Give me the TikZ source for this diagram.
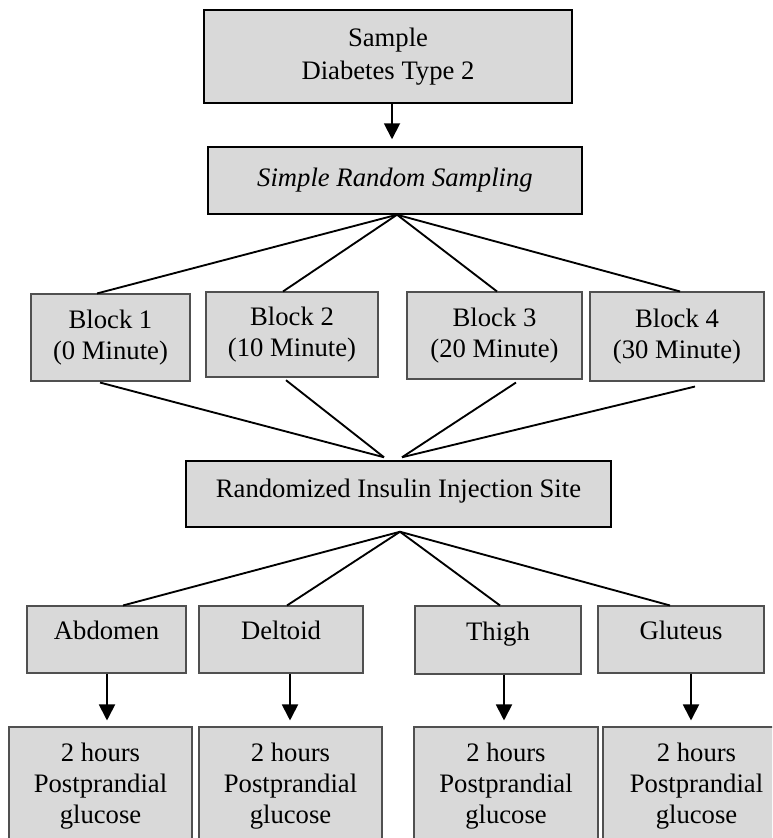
\documentclass[tikz,border=0pt]{standalone}
\usepackage{fontspec}
\setmainfont{Liberation Serif}
\usetikzlibrary{arrows.meta}
\definecolor{boxgray}{HTML}{D9D9D9}
\definecolor{edgegray}{HTML}{505050}
\tikzset{
  box/.style={draw=black, line width=1.1pt, fill=boxgray, rectangle, inner sep=0pt,
    align=center, font=\fontsize{20pt}{23.5pt}\selectfont},
  sbox/.style={box, draw=edgegray, line width=0.8pt},
  link/.style={line width=1.4pt, black},
  arr/.style={line width=1.4pt, black, -{Triangle[width=12pt,length=12pt]}},
  single/.style={text height=13pt, text depth=13pt}
}
\begin{document}
\begin{tikzpicture}[x=0.75pt, y=-0.75pt]
\path[use as bounding box] (0,0) rectangle (772,838);
\clip (0,0) rectangle (772,838);
% boxes
\node[box, font=\fontsize{20pt}{24.75pt}\selectfont, minimum width=276pt, minimum height=69.75pt] (top) at (388,56.5) {Sample\\Diabetes Type 2};
\node[box, minimum width=280.5pt, minimum height=50.25pt] (srs) at (395,180.5) {\itshape Simple Random Sampling};
\node[sbox, minimum width=119.25pt, minimum height=65.25pt] (b1) at (110.5,337.5) {Block 1\\(0 Minute)};
\node[sbox, minimum width=129pt, minimum height=63.75pt] (b2) at (292,334.5) {Block 2\\(10 Minute)};
\node[sbox, minimum width=131.25pt, minimum height=65.25pt] (b3) at (494.5,335.5) {Block 3\\(20 Minute)};
\node[sbox, minimum width=130.5pt, minimum height=66.75pt] (b4) at (677,336.5) {Block 4\\(30 Minute)};
\node[box, minimum width=318.75pt, minimum height=49.5pt, text height=13pt, text depth=8pt] (riis) at (398.5,494) {Randomized Insulin Injection Site};
\node[sbox, single, minimum width=119.25pt, minimum height=50.25pt] (s1) at (106.5,639.5) {Abdomen};
\node[sbox, single, minimum width=123pt, minimum height=50.25pt] (s2) at (281,639.5) {Deltoid};
\node[sbox, single, minimum width=124.5pt, minimum height=51pt] (s3) at (498,640) {Thigh};
\node[sbox, single, minimum width=124.5pt, minimum height=50.25pt] (s4) at (681,639.5) {Gluteus};
\node[sbox, minimum width=137.25pt, minimum height=88.5pt] (g1) at (100.5,786) {2 hours\\Postprandial\\glucose};
\node[sbox, minimum width=137.25pt, minimum height=88.5pt] (g2) at (290.5,786) {2 hours\\Postprandial\\glucose};
\node[sbox, minimum width=138pt, minimum height=88.5pt] (g3) at (506,786) {2 hours\\Postprandial\\glucose};
\node[sbox, minimum width=140.25pt, minimum height=88.5pt] (g4) at (696.5,786) {2 hours\\Postprandial\\glucose};
% top arrow
\draw[arr, shorten >=5.25pt] ([xshift=3pt]top.south) -- ([xshift=3pt]top.south |- srs.north);
% fan to blocks
\draw[link] ([xshift=1.5pt]srs.south) -- ([xshift=-10.125pt]b1.north);
\draw[link] ([xshift=1.5pt]srs.south) -- ([xshift=-6.75pt]b2.north);
\draw[link] ([xshift=1.5pt]srs.south) -- ([xshift=1.875pt]b3.north);
\draw[link] ([xshift=1.5pt]srs.south) -- ([xshift=2.25pt]b4.north);
% blocks to riis
\draw[link] ([xshift=-7.875pt,yshift=-0.75pt]b1.south) -- ([xshift=-10.875pt,yshift=2.25pt]riis.north);
\draw[link] ([xshift=-4.5pt,yshift=-2pt]b2.south) -- ([xshift=-10.875pt,yshift=2.25pt]riis.north);
\draw[link] ([xshift=16.125pt,yshift=-2.25pt]b3.south) -- ([xshift=2.625pt,yshift=2.25pt]riis.north);
\draw[link] ([xshift=13.5pt,yshift=-3.75pt]b4.south) -- ([xshift=2.625pt,yshift=2.25pt]riis.north);
% riis to sites
\draw[link] ([xshift=1.125pt,yshift=-3pt]riis.south) -- ([xshift=12.375pt]s1.north);
\draw[link] ([xshift=1.125pt,yshift=-3pt]riis.south) -- ([xshift=4.5pt]s2.north);
\draw[link] ([xshift=1.125pt,yshift=-3pt]riis.south) -- ([xshift=1.5pt]s3.north);
\draw[link] ([xshift=1.125pt,yshift=-3pt]riis.south) -- ([xshift=-8.25pt]s4.north);
% sites to glucose
\draw[arr, shorten >=4.5pt] ([xshift=0.375pt]s1.south) -- ([xshift=0.375pt]s1.south |- g1.north);
\draw[arr, shorten >=4.5pt] ([xshift=6.75pt]s2.south) -- ([xshift=6.75pt]s2.south |- g2.north);
\draw[arr, shorten >=4.5pt] ([xshift=4.5pt]s3.south) -- ([xshift=4.5pt]s3.south |- g3.north);
\draw[arr, shorten >=4.5pt] ([xshift=7.5pt]s4.south) -- ([xshift=7.5pt]s4.south |- g4.north);
\end{tikzpicture}
\end{document}
